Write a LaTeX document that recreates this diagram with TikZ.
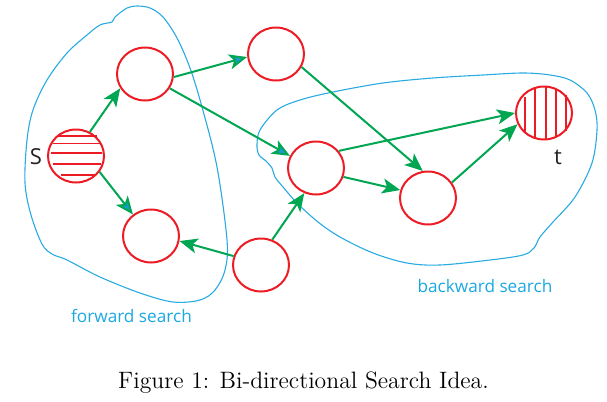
\documentclass[tikz,border=0pt]{standalone}
\usepackage{fontspec}
\newfontfamily\lblfont{Open Sans}
\usetikzlibrary{arrows.meta,shapes.geometric}
\definecolor{nodered}{HTML}{ED1C24}
\definecolor{arrgreen}{HTML}{00A651}
\definecolor{blobblue}{HTML}{29ABE2}
\definecolor{tipblue}{HTML}{1B9AD6}
\definecolor{lblblue}{HTML}{1BA8E0}
\definecolor{lbldark}{HTML}{231F20}
\begin{document}
\begin{tikzpicture}[x=0.5pt,y=-0.5pt,
  vert/.style={ellipse, draw=nodered, line width=1pt, minimum width=28pt, minimum height=26.5pt, inner sep=0pt},
  hatch/.style={draw=nodered, line width=0.9pt},
  edge/.style={draw=arrgreen, line width=1pt, -{Stealth[length=9pt,width=7.5pt,inset=2.3pt]}},
  bedge/.style={draw=arrgreen, line width=1pt, -{Stealth[length=9pt,width=7.5pt,inset=2.3pt,fill=tipblue]}},
  blob/.style={draw=blobblue, line width=0.55pt},
  vlabel/.style={font=\lblfont\fontsize{11}{13}\selectfont, text=lbldark, inner sep=0pt},
  blabel/.style={font=\lblfont\fontsize{8.6}{10}\selectfont, text=lblblue, inner sep=0pt}]
\useasboundingbox (0,0) rectangle (607,402);

% regions
\draw[blob] plot[smooth cycle, tension=0.55] coordinates {
  (100,25) (112,22) (115,17) (127,8) (137,6) (150,8) (163,17) (177,38)
  (190,68) (202,107) (217,167) (227,240) (225,270) (215,290) (200,300)
  (173,302) (140,293) (100,277) (67,260) (52,254) (42,244) (31,215)
  (25,183) (27,140) (33,110) (47,80) (67,53) (87,35)};
\draw[blob] plot[smooth cycle, tension=0.55] coordinates {
  (277,110) (300,100) (333,92) (383,83) (433,78) (483,75) (523,73) (550,75)
  (570,80) (587,93) (595,110) (597,130) (592,163) (575,197) (553,222)
  (540,237) (534,248) (523,255) (490,260) (440,265) (407,263) (373,253)
  (340,237) (318,222) (297,203) (283,187) (275,177) (272,168) (266,161)
  (259,155) (257,145) (260,130)};

% vertices
\node[vert] (S) at (76,156) {};
\node[vert] (A) at (145,74) {};
\node[vert] (B) at (276,54) {};
\node[vert] (C) at (151,236) {};
\node[vert] (F) at (261,265) {};
\node[vert] (D) at (316,168) {};
\node[vert] (E) at (428,198) {};
\node[vert] (T) at (544,113) {};

% hatching
\draw[hatch] (57,136) -- (97,136);
\draw[hatch] (53,143.5) -- (100,143.5);
\draw[hatch] (51,153) -- (102,153);
\draw[hatch] (53,164) -- (101,164);
\draw[hatch] (61,175) -- (95,175);
\draw[hatch] (524.7,97) -- (524.7,132);
\draw[hatch] (535.3,89) -- (535.3,139);
\draw[hatch] (546.3,87) -- (546.3,139);
\draw[hatch] (556.3,90) -- (556.3,137);
\draw[hatch] (566.3,95) -- (566.3,131);

% labels
\node[vlabel] (Slbl) at (36,157) {S};
\node[vlabel] (tlbl) at (558,157) {t};
\node[blabel] (fwd) at (131.5,316) {forward search};
\node[blabel] (bwd) at (485,286.5) {backward search};
\node[font=\fontsize{11.85}{14}\selectfont, inner sep=0pt] (cap) at (303.5,383) {Figure 1: Bi-directional Search Idea.};

% edges
\draw[edge] (S.60) -- (A.210);
\draw[bedge] (S.-34) -- (C.130);
\draw[bedge] (A.-6) -- (B.186);
\draw[bedge] (A.-30) -- (D.155);
\draw[edge] (B.-27) -- (E.101);
\draw[edge] (F.162) -- (C.-10);
\draw[edge] (F.66) -- (D.245);
\draw[edge] (D.37) -- (T.180);
\draw[edge] (D.-18) -- (E.164);
\draw[edge] (E.33) -- (T.203);
\end{tikzpicture}
\end{document}
